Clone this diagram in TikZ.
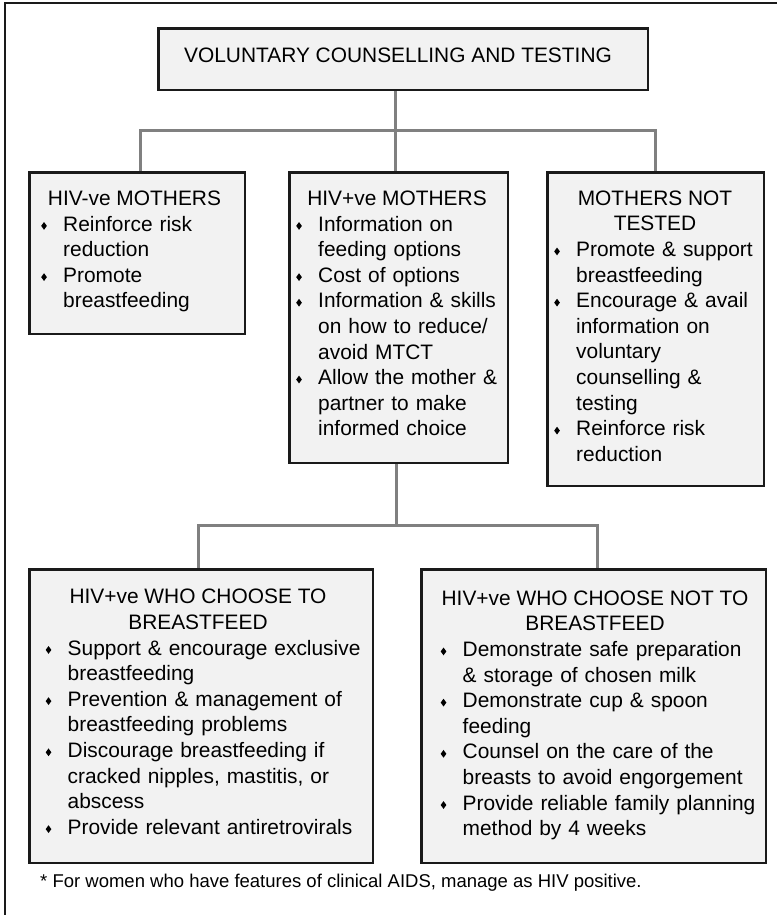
\documentclass[tikz,border=0pt]{standalone}
\usepackage{fontspec}
\setmainfont{Liberation Sans}
\usepackage{graphicx}

\definecolor{boxfill}{HTML}{F2F2F2}
\definecolor{boxline}{HTML}{1A1A1A}
\definecolor{conngray}{HTML}{808080}

% small diamond bullet and the matching hanging indent
\newcommand\bulmark{\raisebox{1.2pt}{\scalebox{0.8}[1.1]{\rotatebox{45}{\rule{5pt}{5pt}}}}}
\newcommand\bulitem{\makebox[22pt][l]{\bulmark}}
\newcommand\bulcont{\hspace*{22pt}}

\tikzset{
  box/.style={draw=boxline, fill=boxfill, line width=1.6pt, inner sep=0pt, anchor=north west},
  conn/.style={draw=conngray, line width=3pt, line join=miter},
  headtxt/.style={inner sep=0pt, anchor=base, font=\fontsize{20.9}{25.6}\selectfont},
  listtxt/.style={inner sep=0pt, anchor=base west, text width=330pt, align=left,
                  font=\fontsize{20.9}{25.6}\selectfont},
  notetxt/.style={inner sep=0pt, anchor=base west, font=\fontsize{18.5}{22}\selectfont},
  frame/.style={draw=boxline, line width=1.6pt}
}

\begin{document}
\begin{tikzpicture}[x=1pt,y=-1pt]
\useasboundingbox (0,0) rectangle (777,915);

% outer frame
\draw[frame] (5,915) -- (5,3) -- (777,3);

% junction points of the connectors
\coordinate (t0) at (395,131);
\coordinate (t1) at (140,131);
\coordinate (t2) at (655,131);
\coordinate (b0) at (396,525);
\coordinate (b1) at (198,525);
\coordinate (b2) at (597,525);

% boxes
\node[box, minimum width=489pt, minimum height=61pt]  (vct)    at (158,28)  {};
\node[box, minimum width=215pt, minimum height=161pt] (neg)    at (29,172)  {};
\node[box, minimum width=218pt, minimum height=290pt] (pos)    at (289,172) {};
\node[box, minimum width=216pt, minimum height=313pt] (notest) at (547,172) {};
\node[box, minimum width=343pt, minimum height=293pt] (yesbf)  at (29,569)  {};
\node[box, minimum width=344pt, minimum height=293pt] (nobf)   at (421,569) {};

% connectors
\draw[conn] (vct.south -| t0) -- (t0);
\draw[conn] (neg.north -| t1) |- (t2) -- (notest.north -| t2);
\draw[conn] (t0) -- (pos.north -| t0);
\draw[conn] (pos.south -| b0) -- (b0);
\draw[conn] (yesbf.north -| b1) |- (b2) -- (nobf.north -| b2);

% redraw box outlines over the connector ends
\foreach \b in {vct,neg,pos,notest,yesbf,nobf}
  \draw[draw=boxline, line width=1.6pt] (\b.north west) rectangle (\b.south east);

% headings (two-line headings are placed by the baseline of their last line)
\node[headtxt] (vcttxt) at (398,62.7) {VOLUNTARY COUNSELLING AND TESTING};
\node[headtxt] (negtitle) at (134.5,205) {HIV-ve MOTHERS};
\node[headtxt] (postitle) at (397,205) {HIV+ve MOTHERS};
\node[headtxt, align=center] (notesttitle) at (655,230.6) {MOTHERS NOT\\TESTED};
\node[headtxt, align=center] (yesbftitle) at (198,629.1) {HIV+ve WHO CHOOSE TO\\BREASTFEED};
\node[headtxt, align=center] (nobftitle) at (595,630.6) {HIV+ve WHO CHOOSE NOT TO\\BREASTFEED};

% bullet lists
\node[listtxt] (neglist) at (41,231) {%
  \bulitem Reinforce risk\\
  \bulcont reduction\\
  \bulitem Promote\\
  \bulcont breastfeeding};
\node[listtxt] (poslist) at (296,231) {%
  \bulitem Information on\\
  \bulcont feeding options\\
  \bulitem Cost of options\\
  \bulitem Information \& skills\\
  \bulcont on how to reduce/\\
  \bulcont avoid MTCT\\
  \bulitem Allow the mother \&\\
  \bulcont partner to make\\
  \bulcont informed choice};
\node[listtxt] (notestlist) at (554,256.5) {%
  \bulitem Promote \& support\\
  \bulcont breastfeeding\\
  \bulitem Encourage \& avail\\
  \bulcont information on\\
  \bulcont voluntary\\
  \bulcont counselling \&\\
  \bulcont testing\\
  \bulitem Reinforce risk\\
  \bulcont reduction};
\node[listtxt] (yesbflist) at (45.5,655) {%
  \bulitem Support \& encourage exclusive\\
  \bulcont breastfeeding\\
  \bulitem Prevention \& management of\\
  \bulcont breastfeeding problems\\
  \bulitem Discourage breastfeeding if\\
  \bulcont cracked nipples, mastitis, or\\
  \bulcont abscess\\
  \bulitem Provide relevant antiretrovirals};
\node[listtxt] (nobflist) at (440.5,656.5) {%
  \bulitem Demonstrate safe preparation\\
  \bulcont \& storage of chosen milk\\
  \bulitem Demonstrate cup \& spoon\\
  \bulcont feeding\\
  \bulitem Counsel on the care of the\\
  \bulcont breasts to avoid engorgement\\
  \bulitem Provide reliable family planning\\
  \bulcont method by 4 weeks};

% footnote
\node[notetxt] (footnote) at (40,887) {* For women who have features of clinical AIDS, manage as HIV positive.};
\end{tikzpicture}
\end{document}
